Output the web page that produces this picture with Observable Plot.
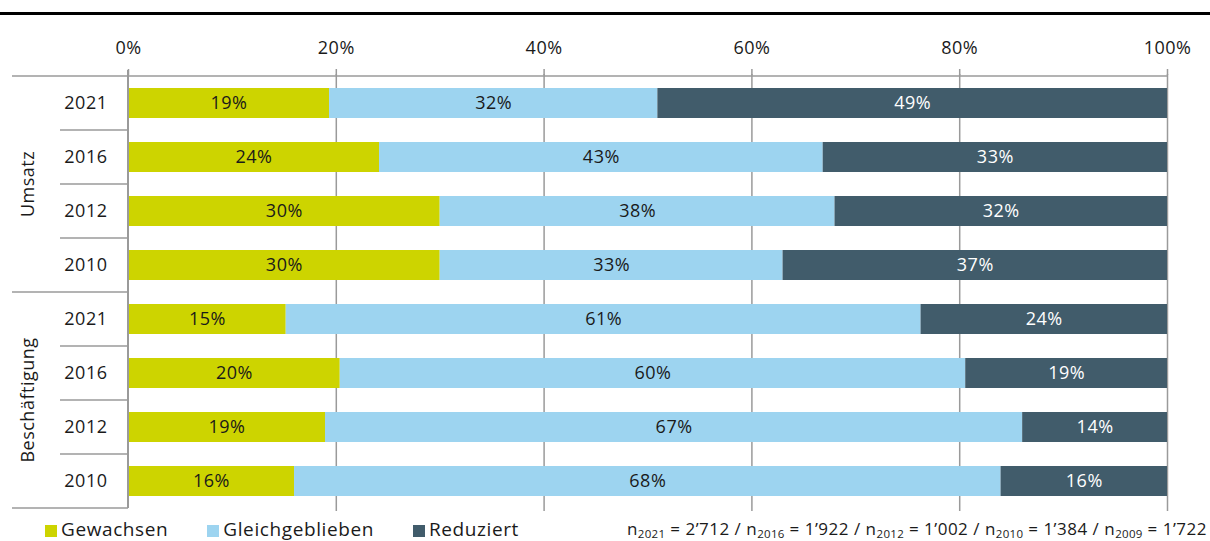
<!DOCTYPE html>
<html>
<head>
<meta charset="utf-8">
<script src="https://cdn.jsdelivr.net/npm/d3@7"></script>
<script src="https://cdn.jsdelivr.net/npm/@observablehq/plot@0.6"></script>
<style>
  body { margin: 0; background: #fff; font-family: "Open Sans", sans-serif; color: #1a1a1a; }
  #wrap { position: relative; width: 1210px; height: 541px; overflow: hidden; }
  #titlebar { height: 12px; border-bottom: 3px solid #000; }
  #chart svg { display: block; }
  #below { position: relative; height: 25px; }
  #legend { position: absolute; left: 45px; top: 4px; display: flex; align-items: center; font-size: 19px; line-height: 18px; letter-spacing: 0.6px; }
  #legend .item { display: flex; align-items: center; margin-right: 39px; }
  #legend .sw { width: 12px; height: 12px; margin-right: 4px; margin-top: 3px; }
  #note { position: absolute; right: 3px; top: 4px; font-size: 17px; line-height: 18px; letter-spacing: 0.5px; white-space: nowrap; }
  #note sub { font-size: 11.5px; vertical-align: -3px; line-height: 0; letter-spacing: 0.3px; }
</style>
</head>
<body>
<div id="wrap">
  <div id="titlebar"></div>
  <div id="chart"></div>
  <div id="below">
    <div id="legend"></div>
    <div id="note"></div>
  </div>
</div>
<script>
// ---- data ----
const groups = ["Umsatz", "Beschäftigung"];
const years = ["2021", "2016", "2012", "2010"];
const categories = ["Gewachsen", "Gleichgeblieben", "Reduziert"];
const colors = ["#cdd400", "#9dd4f0", "#415c6b"];
// rows: Umsatz 2021, 2016, 2012, 2010, Beschäftigung 2021, 2016, 2012, 2010
const gewachsen       = [19.35, 24.16, 30.0, 30.0, 15.18, 20.38, 18.96, 15.98];
const gleichgeblieben = [31.6, 42.7, 38.0, 33.0, 61.1, 60.2, 67.1, 68.0];
const reduziert       = [49.05, 33.14, 32.0, 37.0, 23.72, 19.42, 13.94, 16.02];
const xTicks = [0, 20, 40, 60, 80, 100];
const sampleYears = ["2021", "2016", "2012", "2010", "2009"];
const sampleSizes = ["2’712", "1’922", "1’002", "1’384", "1’722"];

// ---- build table ----
const keys = [];
groups.forEach(g => years.forEach(y => keys.push(g + "|" + y)));
const series = [gewachsen, gleichgeblieben, reduziert];
const data = [];
keys.forEach((k, i) => {
  categories.forEach((c, j) => data.push({ key: k, cat: c, value: series[j][i] }));
});

const gridColor = "#9a9a9a";

function decorations(index, scales, values, dimensions) {
  const x = scales.x, y = scales.y;
  const step = y.step(), bw = y.bandwidth();
  const half = (step - bw) / 2;
  const outerLeft = 12, innerLeft = 60, groupLabelX = 28;
  const g = d3.create("svg:g");
  const lines = g.append("g").attr("stroke", gridColor).attr("stroke-width", 1.5).attr("fill", "none");
  const x0 = x(0), x100 = x(100);
  const top = y(keys[0]) - half;
  const bottom = y(keys[keys.length - 1]) + bw + half;
  // horizontal axis line
  lines.append("line").attr("x1", outerLeft).attr("x2", x100).attr("y1", top).attr("y2", top);
  // row separators in label column
  keys.forEach((k, i) => {
    if (i === 0) return;
    const yy = y(k) - half;
    const isGroup = i % years.length === 0;
    lines.append("line").attr("x1", isGroup ? outerLeft : innerLeft).attr("x2", x0).attr("y1", yy).attr("y2", yy);
  });
  lines.append("line").attr("x1", outerLeft).attr("x2", x0).attr("y1", bottom).attr("y2", bottom);
  // left axis line
  lines.append("line").attr("x1", x0).attr("x2", x0).attr("y1", top - 6).attr("y2", bottom).attr("stroke-width", 2);
  // group labels
  groups.forEach((gr, gi) => {
    const first = y(keys[gi * years.length]) - half;
    const last = y(keys[gi * years.length + years.length - 1]) + bw + half;
    const cy = (first + last) / 2;
    g.append("text")
      .attr("transform", `translate(${groupLabelX},${cy}) rotate(-90)`)
      .attr("text-anchor", "middle")
      .attr("dy", "0.35em")
      .attr("fill", "#1a1a1a")
      .attr("font-size", 18)
      .text(gr);
  });
  return g.node();
}

const labelText = d => Math.round(d.value) + "%";

const chart = Plot.plot({
  width: 1210,
  height: 501,
  marginTop: 59,
  marginBottom: 5,
  marginLeft: 128,
  marginRight: 43,
  style: { fontFamily: "'Open Sans', sans-serif", fontSize: "18px", color: "#1a1a1a", background: "#fff", letterSpacing: "0.5px" },
  x: { domain: [0, 100], label: null },
  y: { domain: keys, paddingInner: 0.44, paddingOuter: 0.22, label: null },
  color: { domain: categories, range: colors },
  marks: [
    Plot.gridX(xTicks.slice(1), { stroke: gridColor, strokeOpacity: 1, strokeWidth: 1.5 }),
    Plot.axisX(xTicks, { anchor: "top", label: null, tickSize: 6, tickPadding: 15, tickFormat: d => d + "%", stroke: gridColor, strokeWidth: 1.5, fontSize: 18 }),
    Plot.barX(data, Plot.stackX({ x: "value", y: "key", fill: "cat", order: null })),
    Plot.text(data, Plot.filter(d => d.cat !== "Reduziert", Plot.stackX({ x: "value", y: "key", text: labelText, order: null, fill: "#1a1a1a", fontSize: 18 }))),
    Plot.text(data, Plot.filter(d => d.cat === "Reduziert", Plot.stackX({ x: "value", y: "key", text: labelText, order: null, fill: "#ffffff", fontSize: 18 }))),
    Plot.axisY({ label: null, tickSize: 0, tickPadding: 21, tickFormat: k => k.split("|")[1], fontSize: 18 }),
    decorations
  ]
});
document.getElementById("chart").appendChild(chart);

// legend
const legend = document.getElementById("legend");
categories.forEach((c, i) => {
  const item = document.createElement("div");
  item.className = "item";
  const sw = document.createElement("span");
  sw.className = "sw";
  sw.style.background = colors[i];
  const t = document.createElement("span");
  t.textContent = c;
  item.appendChild(sw);
  item.appendChild(t);
  legend.appendChild(item);
});

// sample size note
const note = document.getElementById("note");
note.innerHTML = sampleYears.map((y, i) => `n<sub>${y}</sub> = ${sampleSizes[i]}`).join(" / ");
</script>
</body>
</html>
